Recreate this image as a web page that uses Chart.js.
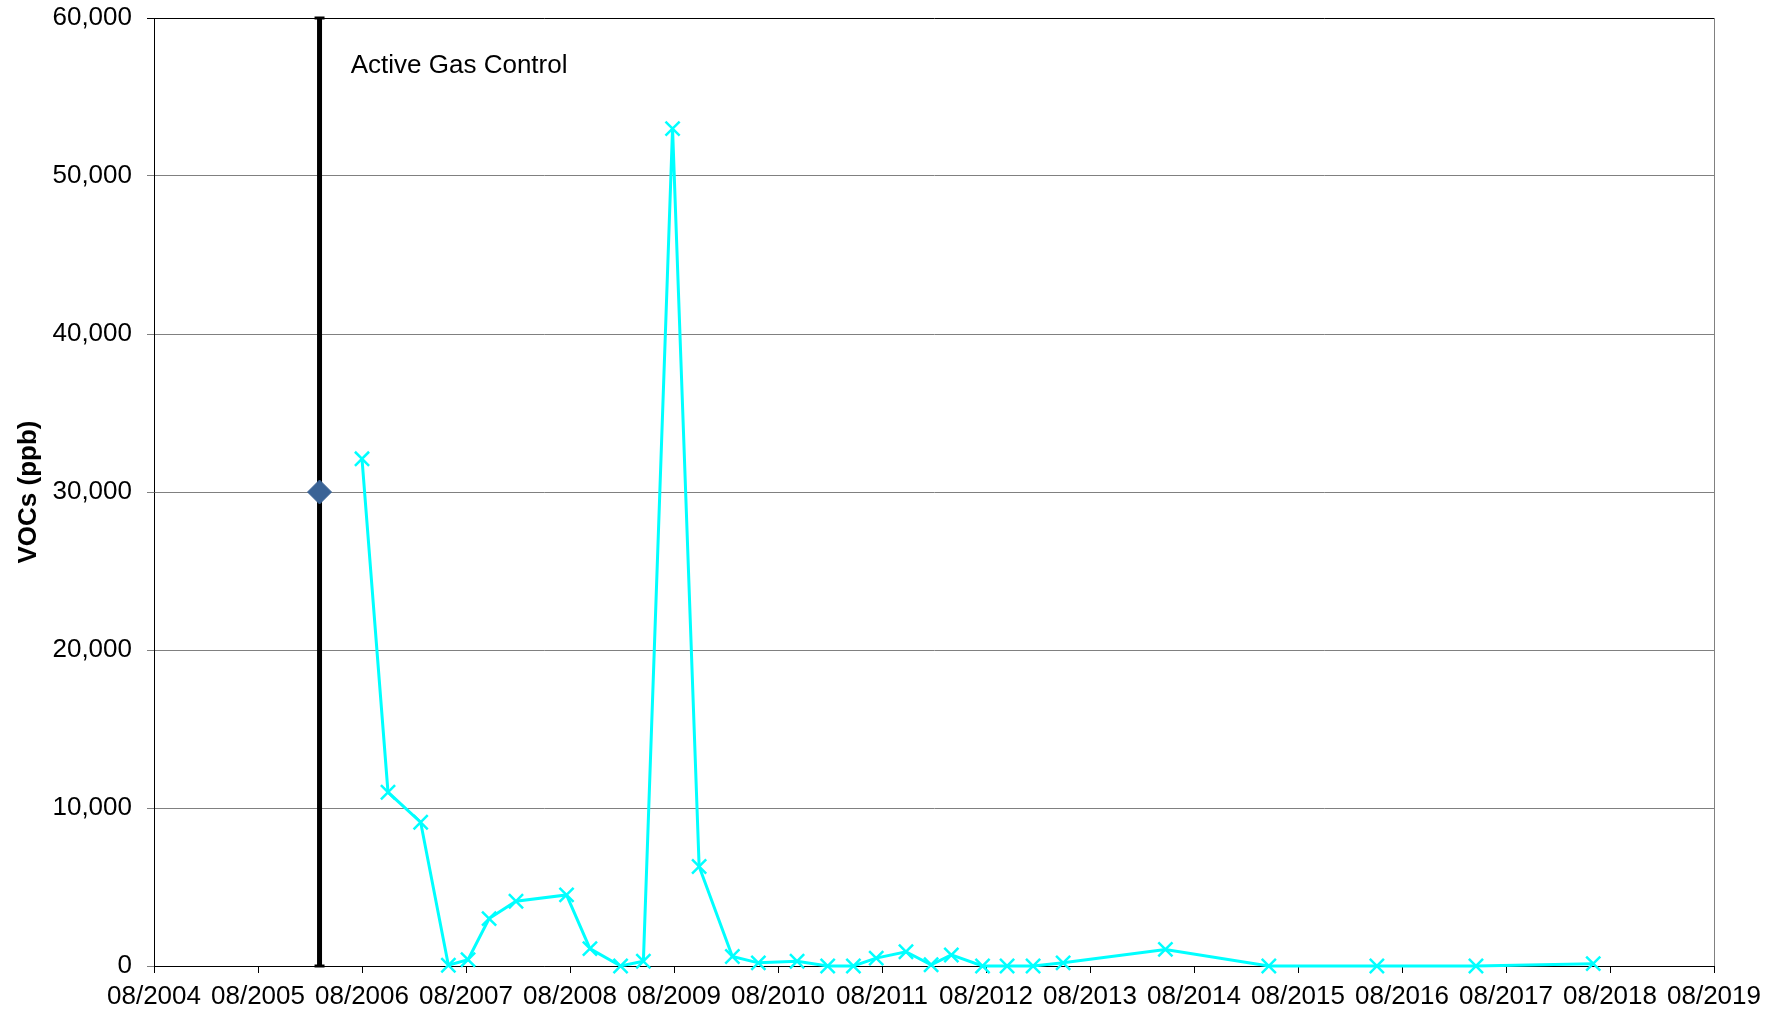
<!DOCTYPE html>
<html>
<head>
<meta charset="utf-8">
<title>VOCs (ppb)</title>
<script src="https://cdn.jsdelivr.net/npm/chart.js@4.4.1/dist/chart.umd.min.js"></script>
<style>
    html, body { margin: 0; padding: 0; background: #fff; }
    #voc-wrap { width: 1780px; height: 1016px; }
</style>
</head>
<body>
<div id="voc-wrap"><canvas id="voc-chart"></canvas></div>
<script>
// Sampling dates and VOC readings (ppb)
var sampleDates = [
    '2006-08-01', '2006-11-01', '2007-02-24', '2007-05-30', '2007-08-08',
    '2007-10-21', '2008-01-24', '2008-07-19', '2008-10-10', '2009-01-26',
    '2009-04-15', '2009-07-26', '2009-10-28', '2010-02-23', '2010-05-23',
    '2010-10-07', '2011-01-23', '2011-04-22', '2011-07-11', '2011-10-24',
    '2012-01-21', '2012-04-01', '2012-07-19', '2012-10-14', '2013-01-14',
    '2013-04-28', '2014-04-22', '2015-04-20', '2016-05-04', '2017-04-17',
    '2018-06-03'
];
var vocValues = [
    32100, 11000, 9100, 50, 400,
    3000, 4100, 4500, 1100, 0,
    300, 53000, 6300, 600, 200,
    300, 0, 0, 500, 900,
    80, 700, 0, 0, 0,
    200, 1050, 0, 0, 0,
    150
];

// Start of active gas control
var controlDate = '2006-03-04';
var controlRange = [0, 60000];
var controlMarker = 30000;
var controlLabel = 'Active Gas Control';

var tickLabels = [
    '08/2004', '08/2005', '08/2006', '08/2007', '08/2008', '08/2009', '08/2010', '08/2011',
    '08/2012', '08/2013', '08/2014', '08/2015', '08/2016', '08/2017', '08/2018', '08/2019'
];
var yTicks = [0, 10000, 20000, 30000, 40000, 50000, 60000];

// x axis runs in months counted from 08/2004
function monthsFromStart(iso) {
    var p = iso.split('-');
    return (parseInt(p[0]) - 2004) * 12 + (parseInt(p[1]) - 8) + (parseInt(p[2]) - 1) / 30;
}

var vocPoints = sampleDates.map(function(d, i) {
    return { x: monthsFromStart(d), y: vocValues[i] };
});
var controlX = monthsFromStart(controlDate);

var FONT = '"Liberation Sans", Arial, sans-serif';

// right frame edge and the text beside the control line
var extrasPlugin = {
    id: 'extras',
    afterDraw: function(chart) {
        var ctx = chart.ctx;
        var area = chart.chartArea;
        var xs = chart.scales.x, ys = chart.scales.y;
        ctx.save();
        ctx.strokeStyle = '#808080';
        ctx.lineWidth = 1;
        ctx.beginPath();
        ctx.moveTo(area.right + 0.5, area.top);
        ctx.lineTo(area.right + 0.5, area.bottom);
        ctx.stroke();

        ctx.fillStyle = '#000';
        ctx.font = '26px ' + FONT;
        ctx.textAlign = 'left';
        ctx.textBaseline = 'middle';
        ctx.fillText(controlLabel, xs.getPixelForValue(22.7), ys.getPixelForValue(57000));
        ctx.restore();
    }
};

var ctx = document.getElementById('voc-chart').getContext('2d');
var vocChart = new Chart(ctx, {
    type: 'line',
    data: {
        datasets: [{
            label: 'Marker',
            data: [{ x: controlX, y: controlMarker }],
            showLine: false,
            pointStyle: 'rectRot',
            pointRadius: 12,
            backgroundColor: '#3a6396',
            borderColor: '#3a6396',
            borderWidth: 1,
            order: 0,
            clip: false
        }, {
            label: 'VOCs',
            data: vocPoints,
            borderColor: '#00ffff',
            borderWidth: 3,
            pointStyle: 'crossRot',
            pointRadius: 10,
            pointBorderWidth: 2.5,
            pointBorderColor: '#00ffff',
            pointBackgroundColor: '#00ffff',
            tension: 0,
            order: 1,
            clip: false
        }, {
            label: 'Control',
            data: [{ x: controlX, y: controlRange[0] }, { x: controlX, y: controlRange[1] }],
            borderColor: '#000',
            borderWidth: 5,
            pointStyle: 'line',
            pointRadius: 5,
            pointBorderWidth: 3,
            pointBorderColor: '#000',
            order: 2,
            clip: false
        }]
    },
    options: {
        responsive: true,
        maintainAspectRatio: false,
        animation: false,
        events: [],
        layout: { padding: { top: 18, right: 66, left: 0, bottom: 0 } },
        plugins: {
            legend: { display: false },
            tooltip: { enabled: false }
        },
        scales: {
            x: {
                type: 'linear',
                min: 0,
                max: 180,
                afterFit: function(scale) { scale.height = 50; },
                afterBuildTicks: function(scale) {
                    scale.ticks = tickLabels.map(function(t, i) { return { value: i * 12 }; });
                },
                ticks: {
                    autoSkip: false,
                    maxRotation: 0,
                    padding: 8,
                    color: '#000',
                    font: { family: FONT, size: 26 },
                    callback: function(value, index) { return tickLabels[index]; }
                },
                grid: {
                    drawOnChartArea: false,
                    drawTicks: true,
                    tickLength: 7,
                    color: '#000'
                },
                border: { color: '#000', width: 1 }
            },
            y: {
                min: 0,
                max: 60000,
                afterFit: function(scale) {
                    scale.width = 154;
                    scale.paddingTop = 0;
                    scale.paddingBottom = 0;
                },
                afterBuildTicks: function(scale) {
                    scale.ticks = yTicks.map(function(v) { return { value: v }; });
                },
                ticks: {
                    padding: 15,
                    color: '#000',
                    font: { family: FONT, size: 26 },
                    callback: function(value) { return value.toLocaleString('en-US'); }
                },
                title: {
                    display: true,
                    text: 'VOCs (ppb)',
                    color: '#000',
                    padding: { top: 13, bottom: 0 },
                    font: { family: FONT, size: 26, weight: 'bold' }
                },
                grid: {
                    tickLength: 7,
                    color: function(c) {
                        var v = c.tick && c.tick.value;
                        return (v === 60000) ? '#000' : '#808080';
                    }
                },
                border: { color: '#000', width: 1 }
            }
        }
    },
    plugins: [extrasPlugin]
});
</script>
</body>
</html>
